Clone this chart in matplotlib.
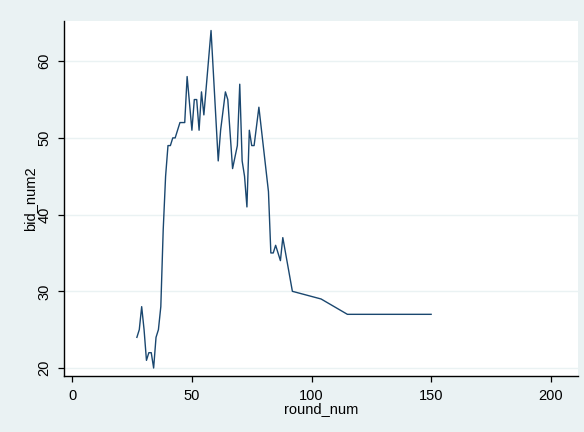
import matplotlib
matplotlib.use("Agg")
import matplotlib.pyplot as plt

plt.rcParams['font.family'] = ['Liberation Sans', 'DejaVu Sans']

# data
round_num = [27, 28, 29, 30, 31, 32, 33, 34, 35, 36,
             37, 38, 39, 40, 41, 42, 43, 44, 45, 46, 47, 48,
             50, 51, 52, 53, 54, 55, 58, 61, 62, 64, 65,
             67, 68, 69, 70, 71, 72, 73, 74, 75, 76, 78,
             82, 83, 84, 85, 87, 88, 92, 104, 115, 150]
bid_num2 = [24, 25, 28, 25, 21, 22, 22, 20, 24, 25,
            28, 38, 45, 49, 49, 50, 50, 51, 52, 52, 52, 58,
            51, 55, 55, 51, 56, 53, 64, 47, 51, 56, 55,
            46, 47.5, 49, 57, 47, 45, 41, 51, 49, 49, 54,
            43, 35, 35, 36, 34, 37, 30, 29, 27, 27]

xticks = [0, 50, 100, 150, 200]
yticks = [20, 30, 40, 50, 60]

bg = '#EAF2F3'
navy = '#1A476F'

fig = plt.figure(figsize=(5.84, 4.32), dpi=100, facecolor=bg)
ax = fig.add_axes([64 / 584, 1 - 376 / 432, 514 / 584, 355 / 432])
ax.set_facecolor('white')

ax.plot(round_num, bid_num2, color=navy, lw=1.0)

ax.set_xlim(-3.47, 211.4)
ax.set_ylim(18.96, 65.24)
ax.set_xticks(xticks)
ax.set_yticks(yticks)
ax.set_yticklabels([str(t) for t in yticks], rotation=90, va='center')

for t in yticks:
    ax.axhline(t, color=bg, lw=1.0, zorder=0)

for s in ['top', 'right']:
    ax.spines[s].set_visible(False)
for s in ['left', 'bottom']:
    ax.spines[s].set_color('black')
    ax.spines[s].set_linewidth(1.0)

ax.tick_params(axis='both', direction='out', length=4, width=0.9,
               labelsize=10.5, colors='black')
ax.tick_params(axis='y', pad=5)
ax.tick_params(axis='x', pad=5)

ax.set_xlabel('round_num', fontsize=10.5, labelpad=0)
ax.set_ylabel('bid_num2', fontsize=10.5, labelpad=0)

fig.savefig('out.png', dpi=100, facecolor=bg)
